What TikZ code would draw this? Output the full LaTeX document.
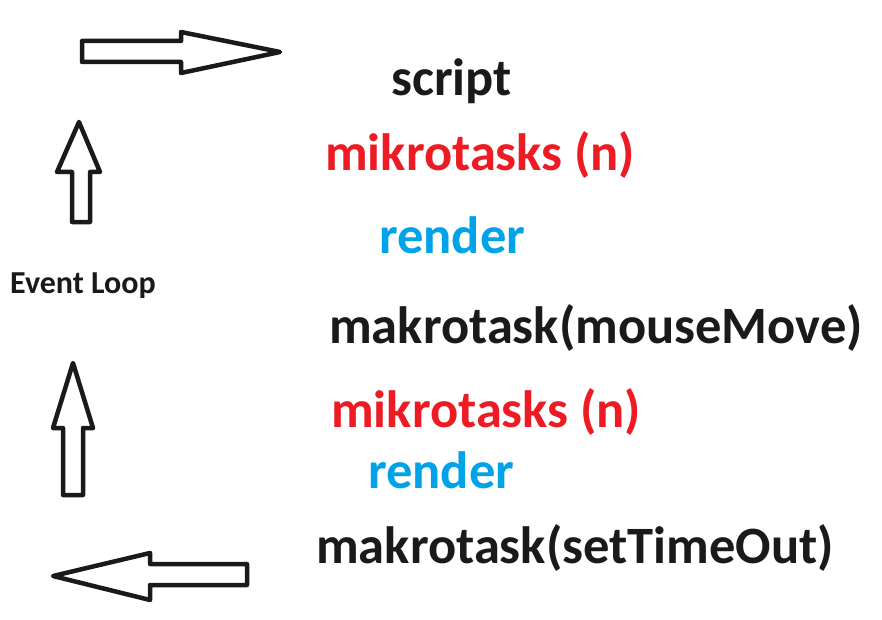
\documentclass[tikz,border=0pt]{standalone}
\usepackage{fontspec}
\setmainfont{Carlito}
\definecolor{tred}{HTML}{ED1C24}
\definecolor{tblue}{HTML}{00A2E8}
\definecolor{tblack}{HTML}{1A1A1A}
\begin{document}
\begin{tikzpicture}[x=1pt,y=-1pt,
  bigarrow/.style={draw=tblack,line width=4.5pt,line join=round,fill=white},
  lbl/.style={anchor=base west,inner sep=0pt,font=\fontsize{52.5}{60}\selectfont\bfseries},
  small/.style={anchor=base west,inner sep=0pt,font=\fontsize{32}{38}\selectfont\bfseries}]
\useasboundingbox[fill=white] (0,0) rectangle (882,620);
% arrows
\draw[bigarrow] (82,41) -- (181,41) -- (181,32) -- (280,52) -- (181,73) -- (181,62) -- (82,62) -- cycle;
\draw[bigarrow] (72,222) -- (72,172) -- (57,172) -- (79,122) -- (100,172) -- (90,172) -- (90,222) -- cycle;
\draw[bigarrow] (63,495) -- (63,428) -- (53,428) -- (73,363) -- (93,428) -- (83,428) -- (83,495) -- cycle;
\draw[bigarrow] (247,564) -- (150,564) -- (150,553) -- (53,576) -- (150,600) -- (150,585) -- (247,585) -- cycle;
% texts
\node[lbl,text=tblack] (script) at (391,96) {script};
\node[lbl,text=tred] (mik1) at (325,171) {mikrotasks (n)};
\node[lbl,text=tblue] (ren1) at (379,253) {render};
\node[lbl,text=tblack] (mak1) at (329,343) {makrotask(mouseMove)};
\node[lbl,text=tred] (mik2) at (331,427) {mikrotasks (n)};
\node[lbl,text=tblue] (ren2) at (368,488) {render};
\node[lbl,text=tblack] (mak2) at (316,563) {makrotask(setTimeOut)};
\node[small,text=tblack] (ev) at (10,293) {Event Loop};
\end{tikzpicture}
\end{document}
